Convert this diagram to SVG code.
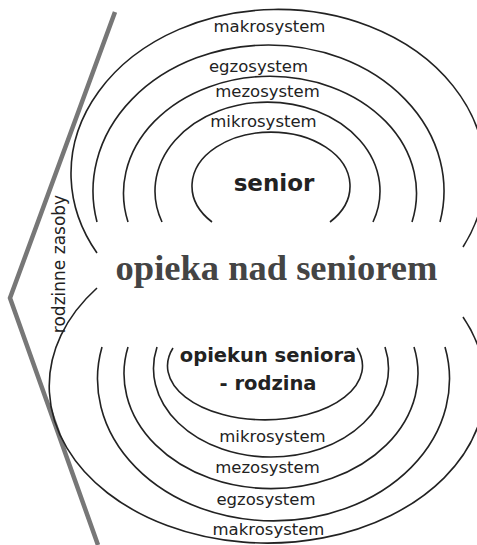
<svg xmlns="http://www.w3.org/2000/svg" width="477" height="545" viewBox="0 0 477 545">
<style>
.arc{fill:none;stroke:#222;stroke-width:1.6}
.lbl{font-family:"DejaVu Sans","Liberation Sans",sans-serif;font-size:16.5px;fill:#222;text-anchor:middle}
.bold{font-family:"DejaVu Sans","Liberation Sans",sans-serif;font-weight:bold;fill:#222;text-anchor:middle}
.main{font-family:"Liberation Serif","Times New Roman",serif;font-weight:bold;font-size:36.5px;fill:#444;text-anchor:middle}
</style>
<rect width="477" height="545" fill="#fff"/>
<g id="connectors">
<polyline points="115,12 10,298 98,545" fill="none" stroke="#777" stroke-width="4.5" stroke-linejoin="miter"/>
</g>
<g id="top-senior">
<path class="arc" d="M212,222 A79,54 0 1 1 330,222"/>
<text class="bold" x="274" y="191" font-size="23">senior</text>
</g>
<g id="top-mikrosystem">
<path class="arc" d="M162,222 A112.5,89 0 1 1 373,222"/>
<text class="lbl" x="263.5" y="127">mikrosystem</text>
</g>
<g id="top-mezosystem">
<path class="arc" d="M128,222 A146.5,117 0 1 1 412,222"/>
<text class="lbl" x="267.5" y="97">mezosystem</text>
</g>
<g id="top-egzosystem">
<path class="arc" d="M97,222 A175.5,146 0 1 1 440,222"/>
<text class="lbl" x="258.5" y="72">egzosystem</text>
</g>
<g id="top-makrosystem">
<path class="arc" d="M97,253 A207,164 0 1 1 463,247"/>
<text class="lbl" x="269.5" y="32">makrosystem</text>
</g>
<g id="center-label">
<text class="main" x="276.5" y="280">opieka nad seniorem</text>
</g>
<g id="side-label">
<text class="lbl" font-size="17" transform="translate(65,264) rotate(-90)" x="0" y="0" style="font-size:17px">rodzinne zasoby</text>
</g>
<g id="bottom-opiekun">
<path class="arc" d="M173,348 A97.5,54 0 1 0 357,348"/>
<text class="bold" x="268" y="362" font-size="19.5">opiekun seniora</text>
<text class="bold" x="268" y="390" font-size="19.5">- rodzina</text>
</g>
<g id="bottom-mikrosystem">
<path class="arc" d="M157,347 A117.5,88.6 0 1 0 385,347"/>
<text class="lbl" x="272.5" y="442">mikrosystem</text>
</g>
<g id="bottom-mezosystem">
<path class="arc" d="M128,347 A147,115 0 1 0 414,347"/>
<text class="lbl" x="267.5" y="473">mezosystem</text>
</g>
<g id="bottom-egzosystem">
<path class="arc" d="M102,347 A176,142 0 1 0 445,347"/>
<text class="lbl" x="266" y="505">egzosystem</text>
</g>
<g id="bottom-makrosystem">
<path class="arc" d="M97,288 A218,157 0 1 0 463,317"/>
<text class="lbl" x="268.5" y="535">makrosystem</text>
</g>
</svg>
